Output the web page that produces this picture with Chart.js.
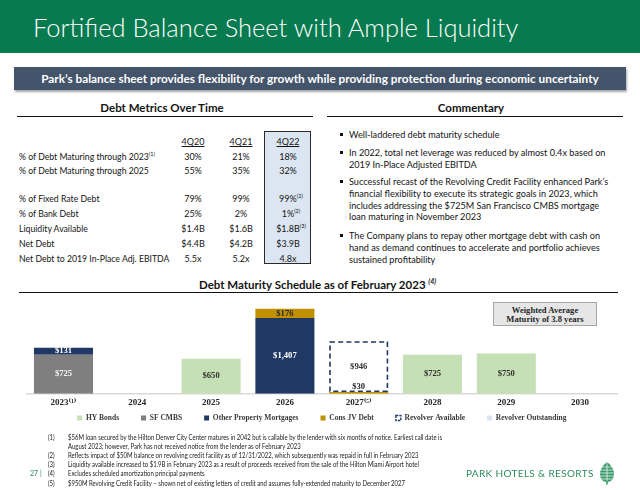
<!DOCTYPE html>
<html><head><meta charset="utf-8">
<script src="https://cdn.jsdelivr.net/npm/chart.js@4.4.1/dist/chart.umd.min.js"></script>
<style>
html,body{margin:0;padding:0;background:#fff;}
#page{position:relative;width:640px;height:490px;overflow:hidden;font-family:Lato,'Liberation Sans',sans-serif;color:#141414;}
.a{position:absolute;white-space:nowrap;}
#band{left:0;top:0;width:640px;height:53px;background:#077a4f;}
#title{left:33px;top:12px;font-weight:300;font-size:25.5px;line-height:30px;color:#fff;}
#sub{left:14px;top:67px;width:612px;height:23px;background:#44546a;box-shadow:1px 2px 2px rgba(0,0,0,0.35);color:#fff;font-weight:700;font-size:11.8px;line-height:23px;text-align:center;}
.head{font-weight:700;font-size:11.5px;line-height:14px;transform:translateX(-50%);}
.rule{height:1.6px;background:#111;}
.tl{font-size:8.7px;line-height:12px;}
.tc{font-size:9px;line-height:12px;transform:translateX(-50%);text-align:center;}
.th{text-decoration:underline;}
sup{font-size:5.5px;line-height:0;vertical-align:4px;}
#hl{left:264px;top:131px;width:47px;height:133px;background:#dce6f2;border:1px solid #2a2a2a;box-sizing:border-box;}
.bul{left:340px;width:3.2px;height:3.2px;background:#111;}
.cm{left:349px;font-size:9.15px;line-height:11.8px;}
#ctitle{left:199px;top:278px;font-weight:700;font-size:11.5px;line-height:14px;}
#wam{left:493px;top:302px;width:104px;height:24px;background:#e7e6e6;border:1px solid #a6a6a6;box-sizing:border-box;font-family:'Liberation Serif',serif;font-weight:700;font-size:8.6px;line-height:9px;text-align:center;color:#262626;padding-top:2.5px;}
.fn{font-size:6.8px;line-height:9px;color:#222;transform:scaleX(0.88);transform-origin:0 50%;}
#pg{left:30px;top:469px;font-size:7px;color:#2e8b5f;}
#brand{left:466px;top:467px;font-size:10px;letter-spacing:0.35px;color:#2e8b5f;}
#chartbox{left:0;top:296px;width:640px;height:156px;}
</style>
</head><body>
<div id="page">
  <div id="band" class="a"></div>
  <div id="title" class="a">Fortified Balance Sheet with Ample Liquidity</div>
  <div id="sub" class="a">Park’s balance sheet provides flexibility for growth while providing protection during economic uncertainty</div>

  <div class="a head" style="left:162px;top:101px;">Debt Metrics Over Time</div>
  <div class="a rule" style="left:17px;top:115.5px;width:296px;"></div>
  <div class="a head" style="left:471px;top:101px;">Commentary</div>
  <div class="a rule" style="left:327px;top:115.5px;width:296px;"></div>

  <div id="hl" class="a"></div>
  <div id="table"></div>
  <div id="comments"></div>

  <div id="ctitle" class="a">Debt Maturity Schedule as of February 2023 <sup style="font-size:7px;vertical-align:5px;font-style:italic;">(4)</sup></div>
  <div class="a rule" style="left:19px;top:291.5px;width:599px;"></div>
  <div id="wam" class="a">Weighted Average<br>Maturity of 3.8 years</div>

  <div id="chartbox" class="a"><canvas id="c" width="640" height="156"></canvas></div>

  <div id="notes"></div>
  <div id="pg" class="a">27 |</div>
  <div id="brand" class="a">PARK HOTELS &amp; RESORTS</div>
  <svg class="a" style="left:599px;top:461px;" width="16" height="24" viewBox="0 0 16 24">
    <path d="M8 1 C3 5 1 9 1 13 C1 18 4 21 8 21 C12 21 15 18 15 13 C15 9 13 5 8 1 Z" fill="#3a9a6c"/>
    <g stroke="#fff" stroke-width="0.7">
      <line x1="0" y1="6" x2="16" y2="6"/><line x1="0" y1="9" x2="16" y2="9"/><line x1="0" y1="12" x2="16" y2="12"/>
      <line x1="0" y1="15" x2="16" y2="15"/><line x1="0" y1="18" x2="16" y2="18"/>
      <line x1="8" y1="1" x2="8" y2="21"/>
    </g>
    <rect x="7.2" y="20" width="1.6" height="3.5" fill="#3a9a6c"/>
  </svg>
</div>
<script>
// ---------- Data ----------
const metricLabels = ['% of Debt Maturing through 2023', '% of Debt Maturing through 2025', '% of Fixed Rate Debt', '% of Bank Debt', 'Liquidity Available', 'Net Debt', 'Net Debt to 2019 In-Place Adj. EBITDA'];
const metricLabelNotes = ['(1)', '', '', '', '', '', ''];
const periods = ['4Q20', '4Q21', '4Q22'];
const values4Q20 = ['30%', '55%', '79%', '25%', '$1.4B', '$4.4B', '5.5x'];
const values4Q21 = ['21%', '35%', '99%', '2%', '$1.6B', '$4.2B', '5.2x'];
const values4Q22 = ['18%', '32%', '99%', '1%', '$1.8B', '$3.9B', '4.8x'];
const notes4Q22 = ['', '', '(2)', '(2)', '(3)', '', ''];

const commentary = [
  ['Well-laddered debt maturity schedule'],
  ['In 2022, total net leverage was reduced by almost 0.4x based on', '2019 In-Place Adjusted EBITDA'],
  ['Successful recast of the Revolving Credit Facility enhanced Park’s', 'financial flexibility to execute its strategic goals in 2023, which', 'includes addressing the $725M San Francisco CMBS mortgage', 'loan maturing in November 2023'],
  ['The Company plans to repay other mortgage debt with cash on', 'hand as demand continues to accelerate and portfolio achieves', 'sustained profitability']
];

const footnotes = [
  ['(1)', '$56M loan secured by the Hilton Denver City Center matures in 2042 but is callable by the lender with six months of notice. Earliest call date is'],
  ['', 'August 2023; however, Park has not received notice from the lender as of February 2023'],
  ['(2)', 'Reflects impact of $50M balance on revolving credit facility as of 12/31/2022, which subsequently was repaid in full in February 2023'],
  ['(3)', 'Liquidity available increased to $1.9B in February 2023 as a result of proceeds received from the sale of the Hilton Miami Airport hotel'],
  ['(4)', 'Excludes scheduled amortization principal payments'],
  ['(5)', '$950M Revolving Credit Facility – shown net of existing letters of credit and assumes fully-extended maturity to December 2027']
];

const years = ['2023', '2024', '2025', '2026', '2027', '2028', '2029', '2030'];
const yearNotes = ['⁽¹⁾', '', '', '', '⁽⁵⁾', '', '', ''];
const hyBonds = [0, 0, 650, 0, 0, 725, 750, 0];
const sfCmbs = [725, 0, 0, 0, 0, 0, 0, 0];
const otherMortgages = [131, 0, 0, 1407, 0, 0, 0, 0];
const consJvDebt = [0, 0, 0, 176, 30, 0, 0, 0];
const revolverAvailable = [0, 0, 0, 0, 946, 0, 0, 0];
const revolverOutstanding = [0, 0, 0, 0, 0, 0, 0, 0];

// ---------- Table ----------
const rowY = [157, 171, 199, 214, 229, 244, 259];
const colX = [193, 241, 288];
let html = '';
periods.forEach((p, i) => {
  html += `<div class="a tc th" style="left:${colX[i]}px;top:${142 - 6}px;">${p}</div>`;
});
metricLabels.forEach((lab, r) => {
  const n = metricLabelNotes[r] ? `<sup>${metricLabelNotes[r]}</sup>` : '';
  html += `<div class="a tl" style="left:19px;top:${rowY[r] - 6}px;">${lab}${n}</div>`;
  html += `<div class="a tc" style="left:${colX[0]}px;top:${rowY[r] - 6}px;">${values4Q20[r]}</div>`;
  html += `<div class="a tc" style="left:${colX[1]}px;top:${rowY[r] - 6}px;">${values4Q21[r]}</div>`;
  const n2 = notes4Q22[r] ? `<sup>${notes4Q22[r]}</sup>` : '';
  html += `<div class="a tc" style="left:${colX[2] + (n2 ? 3 : 0)}px;top:${rowY[r] - 6}px;">${values4Q22[r]}${n2}</div>`;
});
document.getElementById('table').innerHTML = html;

// ---------- Commentary ----------
const bulletTop = [135, 153, 182, 236];
let ch = '';
commentary.forEach((lines, i) => {
  ch += `<div class="a bul" style="top:${bulletTop[i] - 2}px;"></div>`;
  ch += `<div class="a cm" style="top:${bulletTop[i] - 6}px;">${lines.join('<br>')}</div>`;
});
document.getElementById('comments').innerHTML = ch;

// ---------- Footnotes ----------
let fh = '';
footnotes.forEach((f, i) => {
  const y = 437 + i * 9.2 - 4.5;
  if (f[0]) fh += `<div class="a fn" style="left:48px;top:${y}px;">${f[0]}</div>`;
  fh += `<div class="a fn" style="left:68px;top:${y}px;">${f[1]}</div>`;
});
document.getElementById('notes').innerHTML = fh;

// ---------- Chart ----------
const NAVY = '#1f3864';
const serif = "'Liberation Serif', 'DejaVu Serif', serif";

const segmentLabels = {
  id: 'segmentLabels',
  afterDatasetsDraw(chart) {
    const ctx = chart.ctx;
    ctx.save();
    ctx.font = `bold 8.6px ${serif}`;
    ctx.textAlign = 'center';
    ctx.textBaseline = 'middle';
    chart.data.datasets.forEach((ds, di) => {
      const meta = chart.getDatasetMeta(di);
      meta.data.forEach((el, i) => {
        const v = ds.data[i];
        if (!v) return;
        const p = el.getProps(['x', 'y', 'base'], true);
        if (ds.dashed) {
          const w = el.width;
          ctx.save();
          ctx.strokeStyle = NAVY;
          ctx.lineWidth = 1.6;
          ctx.setLineDash([5, 3.2]);
          ctx.strokeRect(p.x - w / 2 + 0.8, p.y + 0.8, w - 1.6, p.base - p.y - 1.6);
          ctx.restore();
        }
        const h = p.base - p.y;
        const ty = h < 5 ? p.y - 5 : (p.y + p.base) / 2;
        ctx.fillStyle = ds.labelColor;
        ctx.fillText('$' + v.toLocaleString('en-US'), p.x, ty);
      });
    });
    ctx.restore();
  }
};

const LEGEND_CENTER_Y = 122; // canvas coords
const legendPlace = {
  id: 'legendPlace',
  afterLayout(chart) {
    const lg = chart.legend;
    if (!lg) return;
    const pad = lg.options.labels.padding;
    const fs = lg.options.labels.font.size;
    const cur = lg.top + pad + fs / 2;
    const dy = LEGEND_CENTER_Y - cur;
    lg.top += dy; lg.bottom += dy;
  }
};

new Chart(document.getElementById('c'), {
  type: 'bar',
  data: {
    labels: years.map((y, i) => y + yearNotes[i]),
    datasets: [
      { label: 'HY Bonds', data: hyBonds, backgroundColor: '#c5e0b4', labelColor: '#303030' },
      { label: 'SF CMBS', data: sfCmbs, backgroundColor: '#7f7f7f', labelColor: '#f4f4f4' },
      { label: 'Other Property Mortgages', data: otherMortgages, backgroundColor: NAVY, labelColor: '#ffffff' },
      { label: 'Cons JV Debt', data: consJvDebt, backgroundColor: '#bf9000', labelColor: '#262626' },
      { label: 'Revolver Available', data: revolverAvailable, backgroundColor: 'rgba(255,255,255,0)', dashed: true, labelColor: '#303030' },
      { label: 'Revolver Outstanding', data: revolverOutstanding, backgroundColor: '#dae3f3', labelColor: '#303030' }
    ]
  },
  options: {
    responsive: false,
    animation: false,
    devicePixelRatio: 1,
    layout: { padding: { left: 26.6, right: 23, top: 1, bottom: 0 } },
    datasets: { bar: { barPercentage: 0.8, categoryPercentage: 1, borderWidth: 0 } },
    scales: {
      x: {
        stacked: true,
        grid: { display: false, drawTicks: false },
        border: { display: true, color: '#d9d9d9', width: 1.5 },
        ticks: { padding: 4, color: '#262626', font: { family: serif, size: 9, weight: 'bold' } }
      },
      y: { stacked: true, display: false, min: 0, max: 1800 }
    },
    plugins: {
      tooltip: { enabled: false },
      legend: {
        position: 'bottom',
        labels: {
          boxWidth: 5, boxHeight: 5, padding: 22, color: '#3a3a3a',
          font: { family: serif, size: 7.5, weight: 'bold' },
          generateLabels(chart) {
            return chart.data.datasets.map((ds, i) => ({
              text: ds.label,
              datasetIndex: i,
              fillStyle: ds.dashed ? 'rgba(255,255,255,0)' : ds.backgroundColor,
              strokeStyle: ds.dashed ? NAVY : ds.backgroundColor,
              lineWidth: ds.dashed ? 1.3 : 0,
              lineDash: ds.dashed ? [2.5, 1] : [],
              hidden: false,
              fontColor: '#3a3a3a'
            }));
          }
        }
      }
    }
  },
  plugins: [segmentLabels, legendPlace]
});
</script>
</body></html>
